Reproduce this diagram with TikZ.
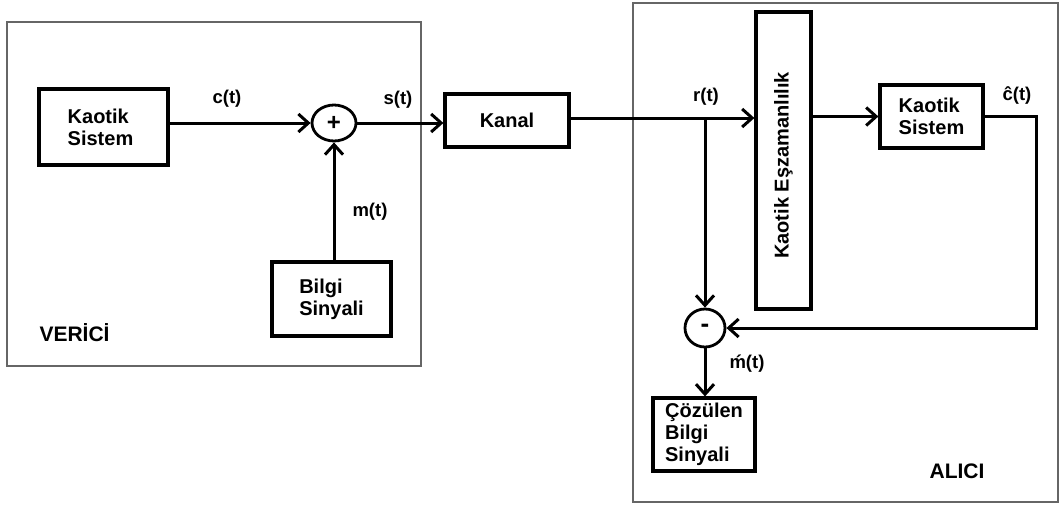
\documentclass[tikz,border=0pt]{standalone}
\usepackage{fontspec}
\setmainfont{Liberation Sans}
\usetikzlibrary{arrows.meta,shapes.geometric}
\begin{document}
\begin{tikzpicture}[x=1pt,y=-1pt,
  every node/.style={font=\fontsize{20}{22}\selectfont\bfseries},
  blk/.style={draw,line width=3.2pt,inner sep=0pt,align=left},
  grp/.style={draw=black!60,line width=1.5pt},
  sumnode/.style={draw,ellipse,line width=2.8pt,inner sep=0pt},
  lbl/.style={font=\fontsize{18.5}{21}\selectfont\bfseries},
  conn/.style={line width=3pt},
  arr/.style={conn,-{Straight Barb[length=10pt,width=18pt]}}]
\useasboundingbox (0,0) rectangle (1059,506);
\fill[white] (0,0) rectangle (1059,506);
% group boxes
\draw[grp] (7,22) rectangle (421,366);
\draw[grp] (633,3) rectangle (1058,502);
% blocks
\node[blk,minimum width=129pt,minimum height=76pt] (kl) at (103.5,127) {\hspace*{-6pt}Kaotik\\\hspace*{-6pt}Sistem};
\node[sumnode,minimum width=44pt,minimum height=36pt,font=\fontsize{24}{24}\selectfont\bfseries] (plus) at (334,123) {+};
\node[blk,minimum width=119pt,minimum height=74pt] (bilgi) at (331.5,299) {Bilgi\\Sinyali};
\node[blk,minimum width=124pt,minimum height=53pt] (kanal) at (507,120.5) {Kanal};
\node[blk,minimum width=55pt,minimum height=297pt] (esz) at (783.5,160.5) {};
\node[rotate=90] (eszt) at ([yshift=-5pt]esz.center) {Kaotik Eşzamanlılık};
\node[blk,minimum width=103pt,minimum height=63pt] (ksr) at (931.5,116.5) {Kaotik\\Sistem};
\node[sumnode,minimum width=40pt,minimum height=38pt,font=\fontsize{26}{26}\selectfont\bfseries] (minus) at (705,328) {-};
\node[blk,minimum width=102pt,minimum height=73pt] (coz) at (704,434.5) {Çözülen\\Bilgi\\Sinyali};
% labels
\node[lbl] (lc) at (227,99) {c(t)};
\node[lbl] (ls) at (398,100) {s(t)};
\node[lbl] (lm) at (370,212) {m(t)};
\node[lbl] (lr) at (706,97) {r(t)};
\node[lbl] (lch) at (1017,96) {ĉ(t)};
\node[lbl] (lmh) at (747,364) {ḿ(t)};
\node[font=\fontsize{21}{24}\selectfont\bfseries,anchor=west] (ver) at (36,333) {VERİCİ};
\node[font=\fontsize{21}{24}\selectfont\bfseries] (alc) at (957,471) {ALICI};
% connectors
\coordinate (rj) at (705,118);
\coordinate (fb) at (1036,328);
\draw[arr] (kl.east |- plus.west) -- (plus.west);
\draw[arr] (plus.south |- bilgi.north) -- (plus.south);
\draw[arr] (plus.east) -- (kanal.west |- plus.east);
\draw[arr] (kanal.east |- rj) -- (esz.west |- rj);
\draw[arr] (rj) -- (minus.north);
\draw[arr] (esz.east |- ksr.west) -- (ksr.west);
\draw[arr] (ksr.east) -| (fb) -- (minus.east);
\draw[arr] (minus.south) -- (minus.south |- coz.north);
\end{tikzpicture}
\end{document}
